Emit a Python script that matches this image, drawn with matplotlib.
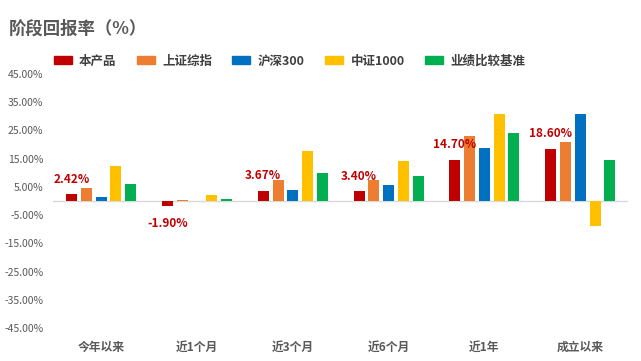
import numpy as np
import matplotlib
matplotlib.use("Agg")
import matplotlib.pyplot as plt
from matplotlib.patches import Patch

plt.rcParams['font.family'] = ['Noto Sans CJK SC', 'DejaVu Sans']

# 数据
categories = ["今年以来", "近1个月", "近3个月", "近6个月", "近1年", "成立以来"]
series_names = ["本产品", "上证综指", "沪深300", "中证1000", "业绩比较基准"]
product = [2.42, -1.90, 3.67, 3.40, 14.70, 18.60]
sse = [4.7, 0.35, 7.5, 7.5, 23.1, 21.0]
csi300 = [1.5, 0.1, 3.9, 5.7, 18.8, 30.9]
csi1000 = [12.4, 2.1, 17.9, 14.2, 30.9, -8.8]
benchmark = [6.0, 0.7, 10.0, 8.9, 24.2, 14.6]
yticks = [45, 35, 25, 15, 5, -5, -15, -25, -35, -45]

colors = ["#C00000", "#ED7D31", "#0070C0", "#FFC000", "#00B050"]
all_series = [product, sse, csi300, csi1000, benchmark]

fig = plt.figure(figsize=(6.41, 3.61), dpi=100)
ax = fig.add_axes([0.083, 0.091, 0.897, 0.704])

x = np.arange(len(categories))
step = 0.154
width = 0.115
for i, (vals, c) in enumerate(zip(all_series, colors)):
    ax.bar(x + (i - 2) * step, vals, width=width, color=c, zorder=2)

# 本产品数据标签
for xi, v in zip(x, product):
    off = 15 if v >= 0 else -17
    ax.annotate(f"{v:.2f}%", (xi - 2 * step, v), xytext=(0, off),
                textcoords="offset pixels",
                ha="center", va="center", color="#C00000",
                fontsize=8.5, fontweight="bold", zorder=3)

ax.axhline(0, color="#D9D9D9", lw=1, zorder=1)
ax.set_xlim(-0.5, len(categories) - 0.5)
ax.set_ylim(-45, 45)
ax.set_yticks(yticks)
ax.set_yticklabels([f"{t:.2f}%" for t in yticks])
ax.set_xticks(x)
ax.set_xticklabels(categories, fontweight="bold")
for s in ax.spines.values():
    s.set_visible(False)
ax.tick_params(axis="y", length=0, labelsize=7.5, labelcolor="#595959", pad=7)
ax.tick_params(axis="x", length=0, labelsize=8.5, labelcolor="#595959", pad=9)

fig.text(0.014, 0.922, "阶段回报率（%）", fontsize=12.5, fontweight="bold",
         color="#595959", va="center")

handles = [Patch(color=c) for c in colors]
leg = fig.legend(handles, series_names, loc="center left",
                 bbox_to_anchor=(0.066, 0.83), ncol=5, frameon=False,
                 handlelength=1.45, handleheight=0.6, handletextpad=0.6,
                 columnspacing=1.6, prop={"size": 9, "weight": "bold"})
for t in leg.get_texts():
    t.set_color("#404040")

fig.savefig("out.png", dpi=100)
